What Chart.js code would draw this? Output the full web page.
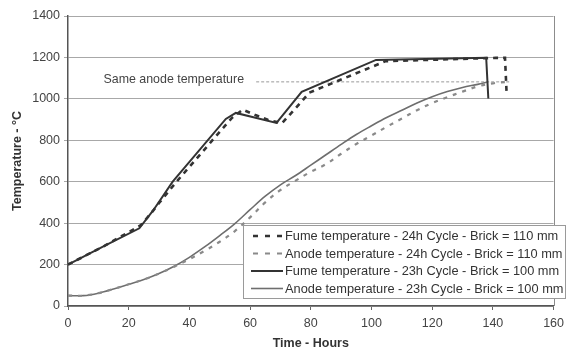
<!DOCTYPE html>
<html>
<head>
<meta charset="utf-8">
<script src="https://cdn.jsdelivr.net/npm/chart.js@4"></script>
<style>
  html, body { margin: 0; padding: 0; background: #fff; }
  #wrap { width: 570px; height: 351px; position: relative; }
</style>
</head>
<body>
<div id="wrap"><canvas id="c" width="570" height="351"></canvas></div>
<script>
// ---- data ----
const fume24Hours = [0, 12, 24, 27.5, 30, 33, 36, 42, 48, 54, 57.6, 61.5, 65.8, 70.5, 76.6, 79.5, 104.7, 141, 144, 144.5];
const fume24Temp  = [200, 290, 390, 450, 497, 551, 604, 705, 807, 908, 948, 923, 899, 882, 981, 1030, 1182, 1198, 1198, 1035];

const anode24Hours = [0, 5, 10, 15, 20, 25, 30, 35, 40, 45, 50, 55, 60, 65, 70, 75, 80, 85, 90, 95, 100, 105, 110, 115, 120, 125, 130, 135, 140, 145];
const anode24Temp  = [50, 50, 62, 82, 105, 128, 157, 190, 226, 266, 310, 362, 428, 500, 560, 605, 648, 685, 735, 782, 823, 865, 905, 945, 980, 1008, 1035, 1060, 1075, 1082];

const fume23Hours = [0, 12, 23.5, 28, 34.5, 52, 55.3, 68.7, 77, 101.5, 137.8, 138.5];
const fume23Temp  = [200, 290, 375, 460, 600, 903, 932, 884, 1034, 1188, 1198, 1002];

const anode23Hours = [0, 5, 10, 15, 20, 25, 30, 35, 40, 45, 50, 55, 60, 65, 70, 75, 80, 85, 90, 95, 100, 105, 110, 115, 120, 125, 130, 135, 138];
const anode23Temp  = [50, 50, 62, 82, 105, 128, 157, 192, 235, 285, 340, 398, 465, 530, 585, 630, 680, 730, 780, 828, 870, 910, 945, 980, 1010, 1035, 1055, 1070, 1080];

const sameHours = [62, 145.5];
const sameTemp  = [1082, 1082];
const sameLabel = "Same anode temperature";
const sameLabelAt = [58, 1092];

const seriesLabels = [
  "Fume temperature - 24h Cycle - Brick = 110 mm",
  "Anode temperature - 24h Cycle - Brick = 110 mm",
  "Fume temperature - 23h Cycle - Brick = 100 mm",
  "Anode temperature - 23h Cycle - Brick = 100 mm"
];
const xTicks = [0, 20, 40, 60, 80, 100, 120, 140, 160];
const yTicks = [0, 200, 400, 600, 800, 1000, 1200, 1400];
const xTitle = "Time - Hours";
const yTitle = "Temperature - \u00B0C";

// ---- build ----
const pts = (xs, ys) => xs.map((x, i) => ({ x: x, y: ys[i] }));
const FONT = "'Liberation Sans', Arial, sans-serif";
const FUME = '#333333', ANODE = '#6e6e6e', ANODE_D = '#8a8a8a';

const styles = [
  { borderColor: FUME, borderWidth: 2.6, borderDash: [5, 5], tension: 0 },
  { borderColor: ANODE_D, borderWidth: 2.2, borderDash: [4, 6], tension: 0.35 },
  { borderColor: FUME, borderWidth: 2, borderDash: [], tension: 0 },
  { borderColor: ANODE, borderWidth: 1.6, borderDash: [], tension: 0.35 }
];
const series = [pts(fume24Hours, fume24Temp), pts(anode24Hours, anode24Temp), pts(fume23Hours, fume23Temp), pts(anode23Hours, anode23Temp)];

const datasets = series.map((d, i) => Object.assign({
  label: seriesLabels[i], data: d, pointRadius: 0, fill: false, cubicInterpolationMode: 'default'
}, styles[i]));
datasets.push({ label: sameLabel, data: pts(sameHours, sameTemp), borderColor: '#9a9a9a', borderWidth: 1, borderDash: [3, 2], pointRadius: 0, tension: 0 });

const LEG = { left: 243, top: 225, right: 565, bottom: 298, rowH: 17.5, sampleX0: 251, sampleX1: 283, textX: 285 };

const overlay = {
  id: 'overlay',
  afterDraw(chart) {
    const ctx = chart.ctx, a = chart.chartArea;
    const xs = chart.scales.x, ys = chart.scales.y;
    ctx.save();
    ctx.strokeStyle = '#8c8c8c'; ctx.lineWidth = 1; ctx.setLineDash([]);
    ctx.beginPath(); ctx.moveTo(Math.round(a.right) + 0.5, a.top); ctx.lineTo(Math.round(a.right) + 0.5, a.bottom); ctx.stroke();
    ctx.fillStyle = '#444'; ctx.font = '12.4px ' + FONT; ctx.textAlign = 'right'; ctx.textBaseline = 'middle';
    ctx.fillText(sameLabel, xs.getPixelForValue(sameLabelAt[0]), ys.getPixelForValue(sameLabelAt[1]));
    ctx.fillStyle = '#fff'; ctx.fillRect(LEG.left, LEG.top, LEG.right - LEG.left, LEG.bottom - LEG.top);
    ctx.strokeStyle = '#9a9a9a'; ctx.lineWidth = 1;
    ctx.strokeRect(LEG.left + 0.5, LEG.top + 0.5, LEG.right - LEG.left, LEG.bottom - LEG.top);
    ctx.textAlign = 'left'; ctx.font = '12.8px ' + FONT; ctx.fillStyle = '#333';
    for (let i = 0; i < 4; i++) {
      const y = LEG.top + 11 + i * LEG.rowH;
      const ds = chart.data.datasets[i];
      ctx.strokeStyle = ds.borderColor; ctx.lineWidth = ds.borderWidth;
      ctx.setLineDash(ds.borderDash.length ? [5, 7] : []);
      ctx.beginPath(); ctx.moveTo(LEG.sampleX0 + (ds.borderDash.length ? 2 : 0), y); ctx.lineTo(LEG.sampleX1, y); ctx.stroke();
      ctx.setLineDash([]);
      ctx.fillText(seriesLabels[i], LEG.textX, y + 0.5);
    }
    ctx.restore();
  }
};

new Chart(document.getElementById('c'), {
  type: 'line',
  data: { datasets: datasets },
  plugins: [overlay],
  options: {
    responsive: false, animation: false,
    layout: { padding: { left: 0, right: 13, top: 16, bottom: 0 } },
    plugins: { legend: { display: false }, tooltip: { enabled: false } },
    scales: {
      x: {
        type: 'linear', min: 0, max: 160,
        afterBuildTicks: s => { s.ticks = xTicks.map(v => ({ value: v })); },
        afterFit: s => { s.height = 45; },
        grid: { display: true, drawOnChartArea: false, drawTicks: true, tickLength: 4, color: '#666' },
        border: { display: true, color: '#555', width: 1.5 },
        ticks: { color: '#444', font: { family: FONT, size: 12.5 }, padding: 6, maxRotation: 0, callback: v => String(v) },
        title: { display: true, text: xTitle, color: '#333', font: { family: FONT, size: 12.5, weight: 'bold' }, padding: { top: 4, bottom: 0 } }
      },
      y: {
        type: 'linear', min: 0, max: 1400,
        afterBuildTicks: s => { s.ticks = yTicks.map(v => ({ value: v })); },
        afterFit: s => { s.width = 68; },
        grid: { color: '#a8a8a8', lineWidth: 1, tickLength: 4, drawTicks: true },
        border: { display: true, color: '#555', width: 1.5 },
        ticks: { color: '#444', font: { family: FONT, size: 12.5 }, padding: 4, callback: v => String(v) },
        title: { display: true, text: yTitle, color: '#333', font: { family: FONT, size: 12.5, weight: 'bold' }, padding: { top: 10, bottom: 0 } }
      }
    }
  }
});
</script>
</body>
</html>
